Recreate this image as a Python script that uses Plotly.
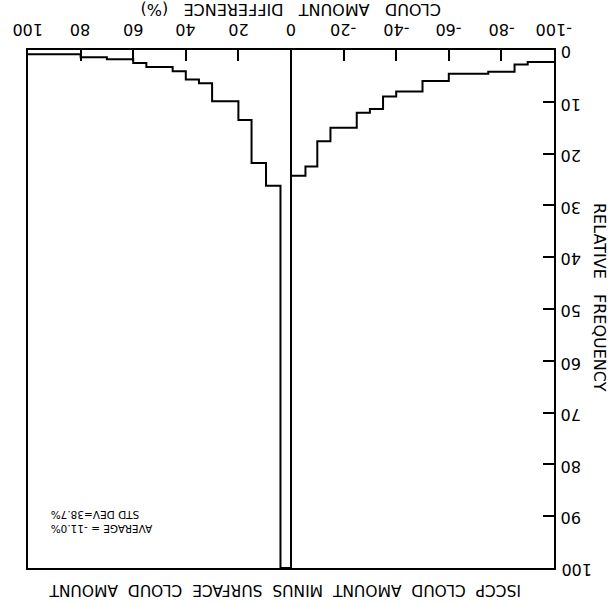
import plotly.graph_objects as go

# Histogram of cloud amount differences (chart is shown rotated by 180 degrees)
bin_edges = [-100, -90, -85, -75, -60, -50, -40, -35, -30, -25, -15, -10, -5.5, 0,
             4, 9.5, 15, 20, 30, 35, 40, 45, 55, 60, 70, 80, 100]
rel_freq = [2.3, 2.8, 4.2, 4.6, 6.0, 8.0, 9.0, 11.4, 12.1, 15.0, 17.6, 22.5, 24.3,
            100, 26.2, 21.8, 13.5, 9.9, 6.4, 5.7, 4.1, 3.3, 2.5, 1.8, 1.4, 0.8]

x_ticks = [-100, -80, -60, -40, -20, 0, 20, 40, 60, 80, 100]
x_tick_labels = ["-100", "-80", "-60", "-40", "-20", "0", "20", "40", "60", "80", "100"]
y_ticks = [0, 10, 20, 30, 40, 50, 60, 70, 80, 90, 100]
y_tick_labels = ["0", "10", "20", "30", "40", "50", "60", "70", "80", "90", "100"]

x_title = "CLOUD   AMOUNT   DIFFERENCE   (%)"
y_title = "RELATIVE   FREQUENCY"
main_title = "ISCCP  CLOUD  AMOUNT  MINUS  SURFACE  CLOUD  AMOUNT"
stats_text = "AVERAGE = -11.0%<br>STD DEV=38.7%"

FONT = "DejaVu Sans"

fig = go.Figure()
fig.add_trace(go.Scatter(
    x=bin_edges,
    y=rel_freq + [rel_freq[-1]],
    mode="lines",
    line=dict(shape="hv", color="black", width=2),
    showlegend=False,
    hoverinfo="skip",
))

annotations = []
# upside-down tick labels (the whole chart is rotated by 180 degrees)
for v, t in zip(x_ticks, x_tick_labels):
    annotations.append(dict(text=t, xref="x", yref="paper", x=v, y=1,
                            xanchor="center", yanchor="bottom", yshift=9,
                            showarrow=False, textangle=180,
                            font=dict(size=16, family=FONT)))
for v, t in zip(y_ticks, y_tick_labels):
    annotations.append(dict(text=t, xref="paper", yref="y", x=1, y=v,
                            xanchor="left", yanchor="middle", xshift=5, yshift=-2,
                            showarrow=False, textangle=180,
                            font=dict(size=16, family=FONT)))

annotations += [
    dict(text=x_title, xref="paper", yref="paper", x=0.5, y=1,
         xanchor="center", yanchor="middle", yshift=40, showarrow=False,
         textangle=180, font=dict(size=16, family=FONT)),
    dict(text=main_title, xref="paper", yref="paper", x=0.5, y=0,
         xanchor="center", yanchor="middle", yshift=-22, xshift=-6, showarrow=False,
         textangle=180, font=dict(size=15.5, family=FONT)),
    dict(text=y_title, xref="paper", yref="paper", x=1, y=0.5,
         xanchor="center", yanchor="middle", xshift=46, yshift=12, showarrow=False,
         textangle=90, font=dict(size=16, family=FONT)),
    dict(text=stats_text, xref="x", yref="y", x=72, y=91,
         xanchor="center", yanchor="middle", showarrow=False, align="right",
         textangle=180, font=dict(size=10.5, family=FONT)),
]

fig.update_layout(
    width=614, height=603,
    margin=dict(l=28, r=60, t=50, b=35),
    paper_bgcolor="white", plot_bgcolor="white",
    font=dict(family=FONT, color="black", size=16),
    xaxis=dict(
        range=[100, -100], side="top", automargin=False,
        tickvals=x_ticks, showticklabels=False,
        ticks="inside", ticklen=11, tickwidth=2, tickcolor="black",
        showline=True, mirror=True, linewidth=2, linecolor="black",
        showgrid=False, zeroline=True, zerolinecolor="black", zerolinewidth=1.5,
    ),
    yaxis=dict(
        range=[100, 0], side="right", automargin=False,
        tickvals=y_ticks, showticklabels=False,
        ticks="inside", ticklen=11, tickwidth=2, tickcolor="black",
        showline=True, mirror=True, linewidth=2, linecolor="black",
        showgrid=False, zeroline=False,
    ),
    annotations=annotations,
)

fig.write_html("out.html")
